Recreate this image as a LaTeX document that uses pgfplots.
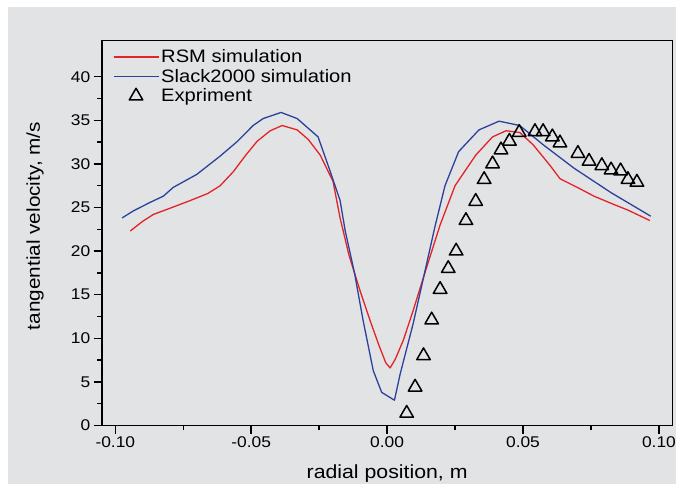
\documentclass[border=0pt]{standalone}
\usepackage{pgfplots}
\pgfplotsset{compat=1.18}
\usepackage{fontspec}
\setmainfont{Liberation Sans}[FakeStretch=1.12]
\definecolor{bg}{RGB}{226,227,229}
\definecolor{rsm}{RGB}{226,35,40}
\definecolor{slk}{RGB}{45,65,155}
\pgfplotsset{
  linelegend/.style={legend image code/.code={\draw[##1] (0pt,0pt) -- (45pt,0pt);}},
  marklegend/.style={legend image code/.code={\draw[##1, mark repeat=1, mark phase=1] plot coordinates {(22.5pt,0pt)};}},
}
\begin{document}
\begin{tikzpicture}
\useasboundingbox (0pt,0pt) rectangle (676pt,484pt);
\clip (0pt,0pt) rectangle (676pt,484pt);
\fill[white] (0pt,0pt) rectangle (676pt,484pt);
\fill[bg] (8pt,0pt) rectangle (676pt,477pt);
\begin{axis}[
  scale only axis, width=570.8pt, height=385pt,
  at={(101.7pt,58.5pt)}, anchor=south west,
  xmin=-0.105, xmax=0.105, ymin=0, ymax=44.15,
  xtick={-0.1,-0.05,0,0.05,0.1},
  xticklabels={-0.10,-0.05,0.00,0.05,0.10},
  ytick={0,5,...,40},
  yticklabels={0,5,10,15,20,25,30,35,40},
  minor x tick num=1, minor y tick num=1,
  tick align=outside, tick pos=left,
  major tick length=8pt, minor tick length=4.5pt,
  every tick/.style={black, line width=1.4pt},
  axis line style={black, line width=1.8pt},
  tick label style={font=\fontsize{15.5}{17}\selectfont},
  xlabel={radial position, m},
  ylabel={tangential velocity, m/s},
  every axis x label/.style={at={(axis description cs:0.5,0)}, yshift=-48.5pt, anchor=center, font=\fontsize{19}{21}\selectfont},
  every axis y label/.style={at={(axis description cs:0,0.5)}, xshift=-66.7pt, yshift=7pt, rotate=90, anchor=center, font=\fontsize{18.5}{20}\selectfont},
  legend style={draw=none, fill=none, at={(axis description cs:0,1)}, anchor=north west,
    xshift=8pt, yshift=-5pt, font=\fontsize{18}{20}\selectfont, row sep=1pt},
  legend cell align=left,
  clip=false,
]
\addplot[rsm, line width=1.3pt, line join=round, linelegend] coordinates {
(-0.0945,22.3) (-0.090,23.4) (-0.086,24.2) (-0.080,24.9) (-0.0724,25.8)
(-0.0660,26.6) (-0.0614,27.5) (-0.0566,29.1) (-0.0520,31.0) (-0.0478,32.6)
(-0.0430,33.8) (-0.0386,34.4) (-0.0331,33.9) (-0.0290,32.8) (-0.0246,31.0)
(-0.0199,28.0) (-0.0173,23.8) (-0.0140,19.5) (-0.0100,15.5) (-0.0060,11.8)
(-0.0030,9.2) (-0.0005,7.2) (0.0011,6.6) (0.0030,7.6) (0.0060,9.8)
(0.0096,13.2) (0.0140,17.6) (0.0195,23.0) (0.0250,27.5) (0.0326,31.0)
(0.0388,33.1) (0.0438,33.8) (0.0488,33.6) (0.0537,32.2) (0.0600,29.8)
(0.0636,28.3) (0.0700,27.3) (0.0761,26.3) (0.0830,25.4) (0.0886,24.7)
(0.0967,23.5)
};
\addlegendentry{RSM simulation}
\addplot[slk, line width=1.3pt, line join=round, linelegend] coordinates {
(-0.0975,23.8) (-0.0934,24.6) (-0.0871,25.6) (-0.0823,26.3) (-0.0787,27.3)
(-0.0700,28.8) (-0.0614,30.9) (-0.0550,32.6) (-0.0493,34.4) (-0.0456,35.2)
(-0.0390,35.9) (-0.0331,35.2) (-0.0254,33.1) (-0.0210,29.2) (-0.0173,25.8)
(-0.0154,22.3) (-0.0120,17.5) (-0.0088,12.0) (-0.0051,6.3) (-0.0020,3.8)
(0.0027,2.9) (0.0048,5.9) (0.0096,11.7) (0.0176,22.8) (0.0213,27.5)
(0.0263,31.4) (0.0338,33.9) (0.0412,34.9) (0.0488,34.4) (0.0574,32.2)
(0.0688,29.5) (0.0824,26.7) (0.0970,24.0)
};
\addlegendentry{Slack2000 simulation}
\addplot[only marks, mark=triangle, mark size=7.8pt,
  mark options={black, line width=1.5pt, line join=round}, marklegend] coordinates {
(0.0072,1.4) (0.0103,4.4) (0.0134,8.0) (0.0164,12.1) (0.0195,15.6)
(0.0225,18.0) (0.0254,20.0) (0.0290,23.5) (0.0326,25.7) (0.0357,28.2)
(0.0388,30.0) (0.0419,31.6) (0.0450,32.6) (0.0486,33.6) (0.0544,33.7)
(0.0574,33.7) (0.0608,33.1) (0.0636,32.4) (0.0702,31.2) (0.0743,30.3)
(0.0790,29.8) (0.0824,29.3) (0.0859,29.2) (0.0886,28.2) (0.0919,27.9)
};
\addlegendentry{Expriment}
\end{axis}
\end{tikzpicture}
\end{document}
